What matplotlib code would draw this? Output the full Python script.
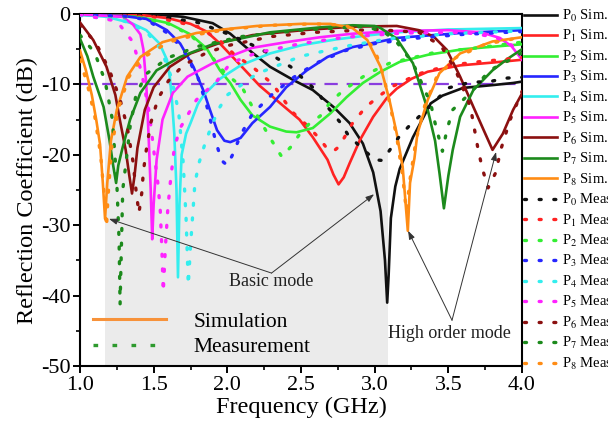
import matplotlib
matplotlib.use('Agg')
import matplotlib.pyplot as plt
from matplotlib.lines import Line2D

# ---- data (frequency in GHz, S11 in dB) ----
# P0
f_sim0 = [1.0, 1.5, 1.7, 1.9, 2.02, 2.17, 2.29, 2.45, 2.58, 2.72, 2.83, 2.92, 2.99, 3.04, 3.07, 3.085,
          3.095, 3.11, 3.14, 3.17, 3.26, 3.38, 3.46, 3.60, 3.80, 3.94, 4.0]
db_sim0 = [0.0, -0.05, -0.4, -1.3, -2.8, -5.5, -7.5, -9.4, -10.8, -13.2, -15.5, -18.4, -22.5, -28.0, -35.0, -41.0,
           -37.0, -29.0, -24.5, -22.0, -17.5, -12.7, -11.6, -10.5, -10.1, -9.8, -9.6]
f_mea0 = [1.0, 1.5, 1.8, 2.0, 2.15, 2.3, 2.43, 2.51, 2.61, 2.68, 2.77, 2.82, 2.91, 3.0, 3.05, 3.08,
          3.16, 3.23, 3.38, 3.5, 3.65, 3.78, 3.9, 4.0]
db_mea0 = [0.0, -0.2, -1.2, -2.8, -4.2, -5.8, -7.5, -9.1, -11.0, -13.2, -15.5, -17.2, -19.0, -20.7, -20.8, -20.0,
           -17.6, -16.0, -13.0, -10.5, -9.7, -9.6, -9.1, -9.0]

# P1
f_sim1 = [1.0, 1.4, 1.6, 1.75, 1.86, 1.95, 2.09, 2.22, 2.36, 2.49, 2.58, 2.68, 2.72, 2.755, 2.79, 2.83,
          2.90, 2.99, 3.08, 3.15, 3.25, 3.36, 3.58, 3.80, 4.0]
db_sim1 = [0.0, -0.1, -0.6, -1.4, -2.5, -4.2, -7.3, -10.2, -12.7, -15.0, -17.5, -20.7, -22.8, -24.2, -23.2, -21.2,
           -17.9, -14.6, -12.0, -10.6, -9.2, -8.2, -7.3, -6.9, -6.5]
f_mea1 = [1.0, 1.5, 1.8, 1.95, 2.05, 2.17, 2.31, 2.44, 2.55, 2.63, 2.68, 2.72, 2.76, 2.85, 2.94, 3.04,
          3.12, 3.3, 3.5, 3.7, 4.0]
db_mea1 = [0.0, -0.4, -1.8, -3.8, -5.8, -7.5, -10.0, -13.9, -16.0, -17.8, -19.2, -19.5, -18.8, -15.5, -13.2, -11.5,
           -10.3, -8.5, -7.3, -6.8, -6.2]

# P2
f_sim2 = [1.0, 1.4, 1.6, 1.75, 1.86, 1.95, 2.02, 2.09, 2.17, 2.29, 2.40, 2.47, 2.58, 2.70, 2.81, 2.92,
          3.04, 3.17, 3.36, 3.6, 4.0]
db_sim2 = [-0.1, -0.4, -1.3, -2.9, -4.9, -8.0, -9.8, -12.2, -14.4, -16.0, -16.7, -16.8, -16.2, -14.1, -11.8, -9.8,
           -8.2, -6.8, -5.8, -5.0, -4.3]
f_mea2 = [1.0, 1.4, 1.6, 1.75, 1.86, 1.98, 2.1, 2.17, 2.29, 2.37, 2.43, 2.5, 2.56, 2.63, 2.7, 2.79,
          2.95, 3.1, 3.4, 3.7, 4.0]
db_mea2 = [-0.1, -0.5, -1.4, -3.0, -5.2, -8.3, -10.4, -13.2, -17.6, -20.3, -18.9, -16.8, -15.5, -14.5, -12.5, -10.8,
           -8.5, -7.0, -5.5, -4.8, -4.0]

# P3
f_sim3 = [1.0, 1.3, 1.45, 1.59, 1.68, 1.77, 1.84, 1.88, 1.93, 1.98, 2.02, 2.09, 2.17, 2.29, 2.40, 2.54,
          2.68, 2.85, 3.04, 3.15, 3.58, 4.0]
db_sim3 = [-0.1, -0.3, -0.7, -2.3, -4.2, -7.5, -11.0, -13.5, -16.5, -18.0, -18.2, -17.6, -15.5, -13.2, -10.4, -8.0,
           -6.1, -4.7, -3.9, -3.4, -2.7, -2.3]
f_mea3 = [1.0, 1.3, 1.45, 1.6, 1.7, 1.8, 1.86, 1.92, 1.96, 2.0, 2.04, 2.09, 2.17, 2.3, 2.45, 2.6,
          2.8, 3.0, 3.3, 3.6, 4.0]
db_mea3 = [-0.1, -0.3, -0.8, -2.8, -5.0, -9.0, -13.0, -18.0, -20.8, -21.5, -19.8, -17.2, -14.2, -11.5, -9.0, -7.0,
           -5.2, -4.2, -3.4, -2.9, -2.5]

# P4
f_sim4 = [1.0, 1.18, 1.35, 1.45, 1.54, 1.59, 1.61, 1.625, 1.64, 1.655, 1.665, 1.675, 1.69, 1.72, 1.75, 1.80,
          1.84, 1.95, 2.09, 2.29, 2.51, 2.74, 2.97, 3.15, 3.5, 4.0]
db_sim4 = [-0.1, -0.4, -1.3, -2.3, -4.2, -6.5, -9.0, -12.5, -17.0, -25.0, -37.4, -27.0, -20.0, -17.0, -15.5, -12.8,
           -11.5, -9.2, -7.3, -5.6, -4.4, -3.6, -3.0, -2.6, -2.2, -2.0]
f_mea4 = [1.0, 1.3, 1.45, 1.55, 1.62, 1.67, 1.70, 1.72, 1.735, 1.75, 1.77, 1.78, 1.81, 1.85, 1.90, 1.95,
          2.0, 2.2, 2.5, 2.8, 3.1, 3.5, 4.0]
db_mea4 = [-0.2, -1.0, -2.5, -5.0, -9.0, -14.0, -21.0, -29.0, -38.5, -33.0, -27.0, -24.0, -21.0, -18.3, -15.5, -13.2,
           -11.5, -8.5, -6.0, -4.6, -3.5, -2.8, -2.4]

# P5
f_sim5 = [1.0, 1.29, 1.36, 1.41, 1.43, 1.45, 1.465, 1.48, 1.49, 1.50, 1.52, 1.56, 1.63, 1.73, 1.90, 2.02,
          2.17, 2.40, 2.63, 2.85, 3.15, 3.5, 3.72, 3.85, 3.93, 4.0]
db_sim5 = [-0.05, -0.4, -1.5, -2.9, -5.0, -10.0, -17.0, -25.0, -32.0, -27.0, -20.7, -15.0, -11.2, -8.9, -7.0, -6.0,
           -4.8, -4.0, -3.3, -2.8, -2.4, -2.3, -2.6, -3.4, -4.6, -6.5]
f_mea5 = [1.0, 1.25, 1.36, 1.42, 1.47, 1.51, 1.53, 1.545, 1.555, 1.565, 1.58, 1.595, 1.61, 1.64, 1.68, 1.79,
          1.93, 2.02, 2.2, 2.5, 2.8, 3.2, 3.6, 3.8, 3.9, 4.0]
db_mea5 = [-0.1, -1.0, -4.0, -8.5, -14.0, -21.0, -24.3, -28.0, -33.0, -39.5, -33.0, -28.0, -24.5, -19.0, -16.2, -12.2,
           -9.5, -7.0, -5.5, -4.2, -3.3, -2.7, -2.6, -3.2, -4.0, -5.5]

# P6
f_sim6 = [1.0, 1.09, 1.18, 1.24, 1.27, 1.31, 1.335, 1.353, 1.37, 1.39, 1.44, 1.50, 1.61, 1.75, 1.95, 2.17,
          2.51, 2.85, 3.15, 3.3, 3.40, 3.49, 3.58, 3.67, 3.74, 3.80, 3.87, 3.94, 4.0]
db_sim6 = [-1.2, -3.7, -7.5, -11.5, -15.0, -19.3, -23.0, -25.5, -23.0, -19.0, -13.6, -10.4, -7.5, -5.6, -4.1, -3.0,
           -2.3, -1.8, -1.7, -2.3, -3.2, -5.1, -8.9, -13.2, -16.5, -19.3, -17.0, -13.6, -11.3]
f_mea6 = [1.0, 1.11, 1.2, 1.27, 1.32, 1.36, 1.38, 1.40, 1.42, 1.43, 1.45, 1.48, 1.53, 1.6, 1.7, 1.85,
          2.0, 2.3, 2.6, 3.0, 3.3, 3.45, 3.55, 3.65, 3.70, 3.73, 3.77, 3.82, 3.86, 3.92, 4.0]
db_mea6 = [-1.5, -4.2, -8.0, -12.0, -16.0, -21.0, -25.0, -28.3, -25.3, -22.4, -19.3, -15.5, -12.0, -9.5, -7.3, -5.6,
           -4.5, -3.2, -2.6, -2.2, -2.6, -4.5, -8.0, -13.2, -19.0, -21.9, -24.7, -22.6, -19.0, -15.0, -11.0]

# P7
f_sim7 = [1.0, 1.05, 1.09, 1.16, 1.20, 1.225, 1.245, 1.26, 1.29, 1.34, 1.41, 1.52, 1.68, 1.90, 2.29, 2.63,
          2.85, 3.0, 3.04, 3.15, 3.26, 3.36, 3.41, 3.44, 3.47, 3.50, 3.53, 3.58, 3.67, 3.80, 3.9, 4.0]
db_sim7 = [-3.5, -6.0, -8.9, -13.2, -17.9, -21.5, -24.0, -21.5, -18.9, -15.0, -11.2, -8.0, -6.1, -4.3, -2.6, -1.9,
           -1.6, -1.7, -2.0, -3.5, -7.0, -13.6, -18.0, -22.6, -27.6, -23.0, -19.3, -14.6, -10.8, -8.0, -6.4, -5.0]
f_mea7 = [1.0, 1.1, 1.17, 1.22, 1.25, 1.265, 1.272, 1.28, 1.29, 1.31, 1.34, 1.38, 1.45, 1.6, 1.8, 2.1,
          2.5, 2.9, 3.05, 3.15, 3.26, 3.38, 3.41, 3.46, 3.49, 3.53, 3.65, 3.78, 3.92, 4.0]
db_mea7 = [-3.0, -5.5, -9.5, -15.0, -24.0, -32.0, -41.3, -34.0, -25.0, -21.5, -16.0, -11.5, -8.5, -6.2, -4.6, -3.2,
           -2.3, -1.8, -2.3, -4.0, -7.0, -12.7, -15.5, -19.5, -16.5, -13.6, -11.2, -8.0, -6.5, -5.5]

# P8
f_sim8 = [1.0, 1.04, 1.08, 1.11, 1.136, 1.155, 1.17, 1.185, 1.21, 1.25, 1.32, 1.41, 1.56, 1.79, 1.97, 2.2,
          2.5, 2.7, 2.85, 2.95, 3.04, 3.10, 3.15, 3.19, 3.225, 3.24, 3.27, 3.29, 3.36, 3.44, 3.58, 3.80, 4.0]
db_sim8 = [-5.2, -8.0, -11.5, -15.0, -18.5, -24.0, -29.1, -24.0, -18.0, -13.6, -8.9, -6.1, -4.0, -2.7, -2.2, -1.7,
           -1.4, -1.4, -2.0, -3.7, -7.5, -12.2, -17.0, -21.7, -30.8, -24.0, -20.5, -17.0, -12.2, -8.4, -5.6, -3.9, -3.3]
f_mea8 = [1.0, 1.05, 1.1, 1.14, 1.165, 1.18, 1.19, 1.215, 1.26, 1.33, 1.42, 1.6, 1.8, 2.0, 2.3, 2.6,
          2.8, 2.9, 3.0, 3.06, 3.1, 3.15, 3.19, 3.215, 3.24, 3.28, 3.34, 3.42, 3.55, 3.75, 4.0]
db_mea8 = [-6.5, -10.0, -14.5, -20.0, -26.0, -30.3, -26.0, -19.0, -13.5, -9.0, -6.3, -4.0, -2.9, -2.2, -1.6, -1.4,
           -1.6, -2.6, -5.0, -8.8, -12.5, -17.5, -23.0, -28.0, -23.5, -18.0, -13.0, -9.0, -6.2, -4.3, -3.3]

sim_f = [f_sim0, f_sim1, f_sim2, f_sim3, f_sim4, f_sim5, f_sim6, f_sim7, f_sim8]
sim_db = [db_sim0, db_sim1, db_sim2, db_sim3, db_sim4, db_sim5, db_sim6, db_sim7, db_sim8]
mea_f = [f_mea0, f_mea1, f_mea2, f_mea3, f_mea4, f_mea5, f_mea6, f_mea7, f_mea8]
mea_db = [db_mea0, db_mea1, db_mea2, db_mea3, db_mea4, db_mea5, db_mea6, db_mea7, db_mea8]
port_names = ['0', '1', '2', '3', '4', '5', '6', '7', '8']
colors = ['#111111', '#ff2222', '#33ee33', '#2626ff', '#33eeee', '#ff22ff', '#8b1010', '#1c8a1c', '#ff8c14']

x_ticks = [1.0, 1.5, 2.0, 2.5, 3.0, 3.5, 4.0]
y_ticks = [-50, -40, -30, -20, -10, 0]

plt.rcParams.update({
    'font.family': 'serif',
    'font.serif': ['Liberation Serif', 'DejaVu Serif'],
    'mathtext.fontset': 'stix',
    'axes.unicode_minus': False,
})

fig = plt.figure(figsize=(6.08, 4.23), dpi=100)
ax = fig.add_axes([80 / 608, 1 - 366 / 423, 442 / 608, 352 / 423])

# grey photo-like background band
ax.axvspan(1.17, 3.09, color='#ebebeb', zorder=0, lw=0)

# simulated curves
for i in range(9):
    ax.plot(sim_f[i], sim_db[i], color=colors[i], lw=1.9, label='P$_{' + port_names[i] + '}$ Sim.', zorder=3)
# measured curves
for i in range(9):
    ax.plot(mea_f[i], mea_db[i], color=colors[i], lw=2.4, linestyle=(0, (0.6, 3.8)),
            dash_capstyle='round', label='P$_{' + port_names[i] + '}$ Meas', zorder=4)

ax.axhline(-10, color='#8a3ddf', lw=1.6, linestyle=(0, (6, 4)), zorder=2)

ax.set_xlim(1.0, 4.0)
ax.set_ylim(-50, 0)
ax.set_xticks(x_ticks)
ax.set_xticklabels(['%.1f' % v for v in x_ticks])
ax.set_yticks(y_ticks)
ax.set_yticklabels([str(v) for v in y_ticks])
ax.set_xticks([1.25, 1.75, 2.25, 2.75, 3.25, 3.75], minor=True)
ax.set_yticks([-45, -35, -25, -15, -5], minor=True)
ax.tick_params(which='major', direction='out', length=5, width=1.4, labelsize=16, pad=2)
ax.tick_params(which='minor', direction='out', length=3, width=1.2)
for sp in ax.spines.values():
    sp.set_linewidth(1.5)

ax.set_xlabel('Frequency (GHz)', fontsize=17.5, labelpad=1.5)
ax.set_ylabel('Reflection Coefficient (dB)', fontsize=17.5, labelpad=2)

# annotations
arrow_kw = dict(arrowstyle='-|>,head_length=0.5,head_width=0.18', color='#333333', lw=0.7,
                shrinkA=0, shrinkB=0)
ax.annotate('', xy=(1.197, -29.1), xytext=(2.30, -36.8), arrowprops=arrow_kw, zorder=5)
ax.annotate('', xy=(2.996, -25.6), xytext=(2.30, -36.8), arrowprops=arrow_kw, zorder=5)
ax.text(2.30, -38.0, 'Basic mode', fontsize=13, ha='center', va='center', color='#222222', zorder=5)
ax.annotate('', xy=(3.227, -30.8), xytext=(3.525, -43.5), arrowprops=arrow_kw, zorder=5)
ax.annotate('', xy=(3.824, -19.6), xytext=(3.525, -43.5), arrowprops=arrow_kw, zorder=5)
ax.text(3.51, -45.4, 'High order mode', fontsize=13, ha='center', va='center', color='#222222', zorder=5)

# right legend (all ports), runs off the right edge as in the original
leg = ax.legend(loc='upper left', bbox_to_anchor=(1.004, 1.018), frameon=False, fontsize=10.5,
                handlelength=2.3, handletextpad=0.35, labelspacing=0.3, borderpad=0, borderaxespad=0)
ax.add_artist(leg)

# inner legend (line style key)
key_handles = [Line2D([], [], color='#f7923a', lw=2.2),
               Line2D([], [], color='#2e9a2e', lw=2.4, linestyle=(0, (1.4, 4.3)))]
ax.legend(key_handles, ['Simulation', 'Measurement'], loc='lower left', bbox_to_anchor=(0.02, 0.012),
          frameon=False, fontsize=15.5, handlelength=3.4, handletextpad=1.25, labelspacing=0.25,
          borderpad=0.2, borderaxespad=0)

fig.savefig('out.png', dpi=100)
